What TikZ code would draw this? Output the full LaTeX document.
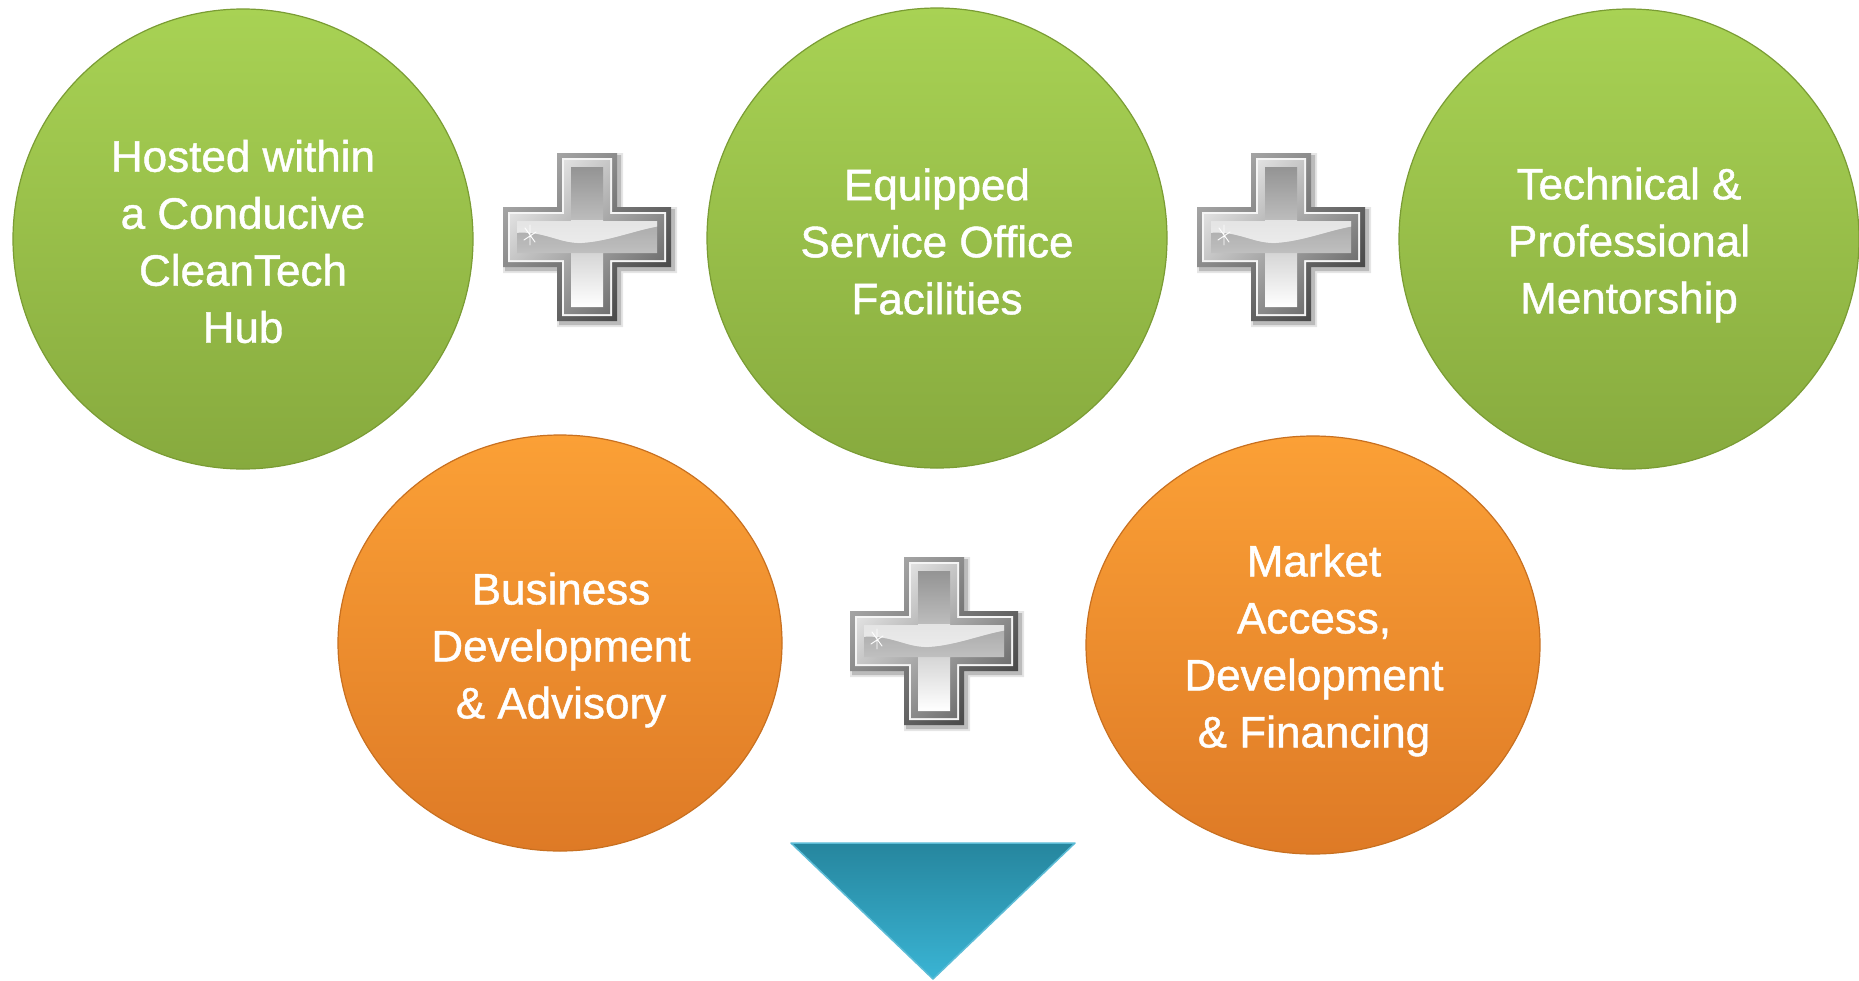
\documentclass[tikz,border=0pt]{standalone}
\usepackage{fontspec}
\setmainfont{Liberation Sans}
\newfontfamily\medfont{Liberation Sans}[FakeBold=1.0]
\usetikzlibrary{shapes.geometric}
\definecolor{gtop}{RGB}{168,210,84}
\definecolor{gbot}{RGB}{135,170,62}
\definecolor{grim}{RGB}{122,156,52}
\definecolor{otop}{RGB}{251,160,54}
\definecolor{obot}{RGB}{222,122,38}
\definecolor{orim}{RGB}{200,112,32}
\definecolor{ttop}{RGB}{38,134,158}
\definecolor{tbot}{RGB}{58,180,212}
\definecolor{trim}{RGB}{92,188,214}
\tikzset{
  greenball/.style={circle, inner sep=0pt, minimum size=460pt, top color=gtop, bottom color=gbot, draw=grim, line width=1.2pt},
  orangeball/.style={ellipse, inner sep=0pt, top color=otop, bottom color=obot, draw=orim, line width=1.2pt},
  lbl/.style={text=white, align=center, font=\medfont\fontsize{44}{57}\selectfont, inner sep=0pt}
}
\newcommand\crossshape[3]{\path[#3] (-#2,#1) -- (#2,#1) -- (#2,#2) -- (#1,#2) -- (#1,-#2) -- (#2,-#2) -- (#2,-#1) -- (-#2,-#1) -- (-#2,-#2) -- (-#1,-#2) -- (-#1,#2) -- (-#2,#2) -- cycle;}
\newcommand\plusicon[1]{%
  \begin{scope}[shift={#1}]
    \begin{scope}[shift={(3,-3)}]
      \crossshape{87}{33}{fill=black, opacity=0.1}
      \crossshape{85}{31}{fill=black, opacity=0.18}
    \end{scope}
    \crossshape{84}{30}{top color=black!35, bottom color=black!72, shading angle=45}
    \crossshape{79}{25}{fill=black!4}
    \crossshape{77}{23}{top color=black!10, bottom color=black!58, shading angle=45}
    \crossshape{70}{16}{top color=black!42, middle color=black!22, bottom color=white}
    \begin{scope}
      \crossshape{70}{16}{clip}
      \fill[white, opacity=0.6] (-80,3) .. controls (-45,9) and (-30,-7) .. (-5,-6) .. controls (25,-4) and (50,8) .. (80,12) -- (80,17) -- (-80,17) -- cycle;
      \fill[black, opacity=0.1] (-80,3) .. controls (-45,9) and (-30,-7) .. (-5,-6) .. controls (25,-4) and (50,8) .. (80,12) -- (80,-16) -- (-80,-16) -- cycle;
    \end{scope}
    \draw[white, line width=0.9pt, line cap=round] (-62,9) -- (-52,-5) (-63,-3) -- (-51,5) (-57,12) -- (-57,-8);
  \end{scope}}
\begin{document}
\begin{tikzpicture}[x=1pt, y=1pt]
  \useasboundingbox (0,0) rectangle (1859,-980);
  \fill[white] (0,0) rectangle (1859,-980);

  \node[greenball] (c1) at (243,-239) {};
  \node[greenball] (c2) at (937,-238) {};
  \node[greenball] (c3) at (1629,-239) {};
  \node[orangeball, minimum width=444pt, minimum height=416pt] (o1) at (560,-643) {};
  \node[orangeball, minimum width=454pt, minimum height=418pt] (o2) at (1313,-645) {};

  \node[lbl] (t1) at (243,-241.5) {Hosted within\\a Conducive\\CleanTech\\Hub};
  \node[lbl] (t2) at (937,-241.5) {Equipped\\Service Office\\Facilities};
  \node[lbl] (t3) at (1629,-245) {Technical \&\\Professional\\Mentorship};
  \node[lbl] (t4) at (561,-650) {Business\\Development\\\& Advisory};
  \node[lbl] (t5) at (1314,-650.5) {Market\\Access,\\Development\\\& Financing};

  \plusicon{(587,-237)}
  \plusicon{(1281,-237)}
  \plusicon{(934,-641)}

  \path[top color=ttop, bottom color=tbot, draw=trim, line width=1.5pt, line join=round]
    (791,-843) -- (1075,-843) -- (933,-979) -- cycle;
\end{tikzpicture}
\end{document}
